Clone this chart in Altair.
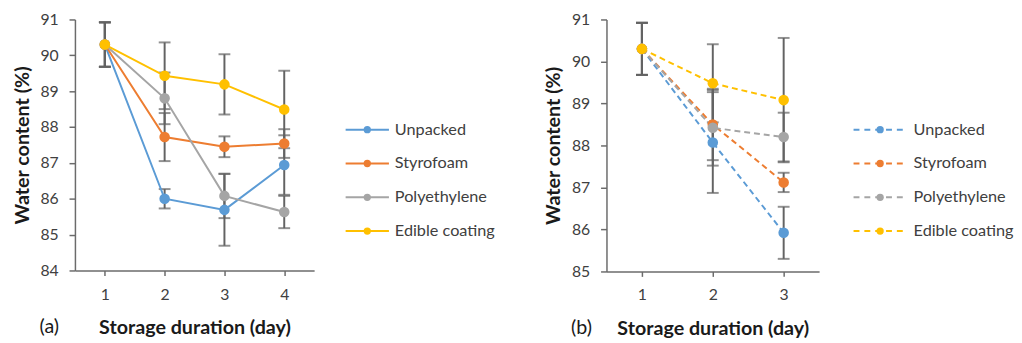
import altair as alt
import pandas as pd

# ---------------- data ----------------
series = ["Unpacked", "Styrofoam", "Polyethylene", "Edible coating"]
series_idx = [0, 1, 2, 3]
colors = ["#5B9BD5", "#ED7D31", "#A5A5A5", "#FFC000"]

days_a = [1, 2, 3, 4]
a_unpacked = [90.30, 86.00, 85.69, 86.94]
a_styrofoam = [90.30, 87.72, 87.45, 87.54]
a_polyethylene = [90.30, 88.80, 86.08, 85.63]
a_edible = [90.30, 89.43, 89.19, 88.49]
a_err_unpacked = [0.62, 0.27, 1.00, 0.83]
a_err_styrofoam = [0.62, 0.67, 0.29, 0.40]
a_err_polyethylene = [0.62, 0.72, 0.62, 0.45]
a_err_edible = [0.62, 0.93, 0.84, 1.08]

days_b = [1, 2, 3]
b_unpacked = [90.30, 88.07, 85.92]
b_styrofoam = [90.30, 88.50, 87.12]
b_polyethylene = [90.30, 88.42, 88.20]
b_edible = [90.30, 89.48, 89.08]
b_err_unpacked = [0.62, 1.20, 0.62]
b_err_styrofoam = [0.62, 0.85, 0.23]
b_err_polyethylene = [0.62, 0.90, 0.58]
b_err_edible = [0.62, 0.93, 1.48]

y_ticks_a = [84, 85, 86, 87, 88, 89, 90, 91]
y_ticks_b = [85, 86, 87, 88, 89, 90, 91]

FONT = "Lato"
AXIS_COLOR = "#6b6b6b"
ERR_COLOR = "#636363"
LABEL_COLOR = "#404040"
TITLE_COLOR = "#1a1a1a"
LABEL_SIZE = 16
TITLE_SIZE = 20


def long_table(days, vals, errs):
    rows = []
    for s, v, e in zip(series, vals, errs):
        for d, vv, ee in zip(days, v, e):
            rows.append({"day": d, "series": s, "value": vv, "lo": vv - ee, "hi": vv + ee})
    return pd.DataFrame(rows)


def panel(days, vals, errs, yticks, dashed, tag, width, height):
    df = long_table(days, vals, errs)
    base = alt.Chart(df)
    x = alt.X(
        "day:Q",
        scale=alt.Scale(domain=[0.5, len(days) + 0.5], nice=False, zero=False),
        axis=alt.Axis(
            values=days, format="d", title="Storage duration (day)", grid=False,
            tickSize=5, tickColor=AXIS_COLOR, domainColor=AXIS_COLOR, domainWidth=1.5,
            tickWidth=1.5, labelPadding=11, titlePadding=16, labelFontSize=LABEL_SIZE,
            titleFontSize=TITLE_SIZE, titleFontWeight="bold", labelColor=LABEL_COLOR,
            titleColor=TITLE_COLOR, labelFont=FONT, titleFont=FONT, labelOverlap=False,
            labelFlush=False,
        ),
    )
    yaxis = alt.Axis(
        values=yticks, format="d", title="Water content (%)", grid=False,
        tickSize=6, tickColor=AXIS_COLOR, domainColor=AXIS_COLOR, domainWidth=1.5,
        tickWidth=1.5, labelPadding=11, titlePadding=8, labelFontSize=LABEL_SIZE,
        titleFontSize=TITLE_SIZE, titleFontWeight="bold", labelColor=LABEL_COLOR,
        titleColor=TITLE_COLOR, labelFont=FONT, titleFont=FONT, labelOverlap=False,
        labelFlush=False,
    )
    yscale = alt.Scale(domain=[yticks[0], yticks[-1]], nice=False, zero=False)
    color = alt.Color("series:N", scale=alt.Scale(domain=series, range=colors), legend=None)

    rule = base.mark_rule(color=ERR_COLOR, strokeWidth=2).encode(
        x=x, y=alt.Y("lo:Q", scale=yscale, axis=yaxis), y2="hi:Q"
    )
    cap_lo = base.mark_tick(orient="horizontal", color=ERR_COLOR, size=12, thickness=2).encode(
        x=x, y=alt.Y("lo:Q", scale=yscale, axis=yaxis)
    )
    cap_hi = base.mark_tick(orient="horizontal", color=ERR_COLOR, size=12, thickness=2).encode(
        x=x, y=alt.Y("hi:Q", scale=yscale, axis=yaxis)
    )
    line_kw = {"strokeWidth": 2}
    if dashed:
        line_kw["strokeDash"] = [6, 4]
    line = base.mark_line(**line_kw).encode(
        x=x, y=alt.Y("value:Q", scale=yscale, axis=yaxis), color=color
    )
    pts = base.mark_circle(size=115, opacity=1).encode(
        x=x, y=alt.Y("value:Q", scale=yscale, axis=yaxis), color=color
    )
    lab = alt.Chart(pd.DataFrame({"t": [tag]})).mark_text(
        font=FONT, fontSize=TITLE_SIZE, align="left", baseline="alphabetic", color=TITLE_COLOR
    ).encode(text="t:N", x=alt.value(-36), y=alt.value(height + 64))
    return alt.layer(rule, cap_lo, cap_hi, line, pts, lab).properties(width=width, height=height)


def legend(dashed, width, height, seg_range, text_offset):
    ldf = pd.DataFrame({"series": series, "idx": series_idx})
    ys = alt.Y("idx:Q", scale=alt.Scale(domain=[0, 3], range=[112, 215], nice=False, zero=False), axis=None)
    xs = alt.Scale(domain=[0, 1], range=seg_range)
    color = alt.Color("series:N", scale=alt.Scale(domain=series, range=colors), legend=None)
    b = alt.Chart(ldf)
    seg_kw = {"strokeWidth": 2}
    if dashed:
        seg_kw["strokeDash"] = [6, 5]
    segL = b.mark_rule(**seg_kw).encode(
        y=ys, x=alt.datum(0, scale=xs, axis=None), x2=alt.datum(1), color=color
    )
    dot = b.mark_circle(size=55, opacity=1).encode(
        y=ys, x=alt.datum(0.5, scale=xs, axis=None), color=color
    )
    txt = b.mark_text(font=FONT, fontSize=16.5, align="left", color=LABEL_COLOR, dx=text_offset).encode(
        y=ys, x=alt.datum(1, scale=xs, axis=None), text="series:N"
    )
    return alt.layer(segL, dot, txt).properties(width=width, height=height)


panel_a = panel(days_a, [a_unpacked, a_styrofoam, a_polyethylene, a_edible],
                [a_err_unpacked, a_err_styrofoam, a_err_polyethylene, a_err_edible],
                y_ticks_a, False, "(a)", 243, 255)
panel_b = panel(days_b, [b_unpacked, b_styrofoam, b_polyethylene, b_edible],
                [b_err_unpacked, b_err_styrofoam, b_err_polyethylene, b_err_edible],
                y_ticks_b, True, "(b)", 216, 256)
leg_a = legend(False, 233, 255, [32, 76], 6)
leg_b = legend(True, 180, 255, [35, 89], 7)

chart = alt.hconcat(panel_a, leg_a, panel_b, leg_b, spacing=0).resolve_scale(
    color="independent", x="independent", y="independent"
).properties(
    padding={"left": 4, "top": 1, "right": 0, "bottom": 0}
).configure_view(stroke=None)

chart.save("out.html", embed_options={"renderer": "svg", "actions": False})
